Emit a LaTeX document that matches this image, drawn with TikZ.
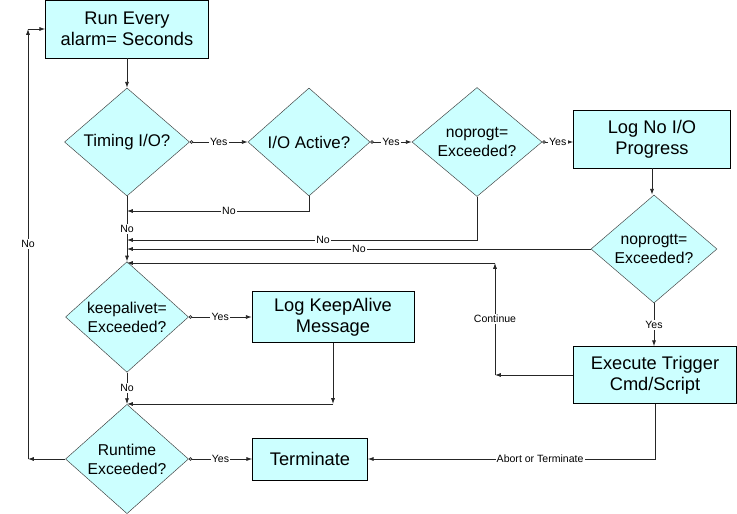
\documentclass[tikz,border=0pt]{standalone}
\usepackage{fontspec}
\setmainfont{Liberation Sans}
\usetikzlibrary{shapes.geometric,arrows.meta,positioning}
\definecolor{boxcyan}{RGB}{204,255,255}
\tikzset{procbox/.style={draw=black, fill=boxcyan, align=center, inner sep=0pt, font=\fontsize{15.6}{18}\selectfont}}
\tikzset{decide/.style={diamond, draw=black!75, fill=boxcyan, align=center, inner sep=0pt, font=\fontsize{13.4}{16.4}\selectfont}}
\tikzset{flow/.style={draw=black!85, line width=0.7pt, -{Latex[length=5pt,width=3.5pt]}}}
\tikzset{yesflow/.style={flow, {Circle[open,length=3pt,width=3pt]}-{Latex[length=5pt,width=3.5pt]}}}
\tikzset{lbl/.style={fill=white, inner sep=1pt, font=\fontsize{9}{10}\selectfont}}

\begin{document}
\begin{tikzpicture}[x=0.3mm, y=-0.3mm]
\useasboundingbox (0,0) rectangle (737,514);

% boxes and decisions
\node[procbox, minimum width=48.9mm, minimum height=17.4mm] (run) at (127,29) {Run Every\\alarm= Seconds};
\node[decide, minimum width=37.5mm, minimum height=32.4mm, font=\fontsize{14.4}{16.4}\selectfont] (timing) at (127,142) {Timing I/O?};
\node[decide, minimum width=36.6mm, minimum height=32.4mm, font=\fontsize{14.4}{16.4}\selectfont] (active) at (309,142) {I/O Active?};
\node[decide, minimum width=39mm, minimum height=32.7mm] (noprogt) at (477,142) {noprogt=\\Exceeded?};
\node[procbox, minimum width=47.1mm, minimum height=17.4mm] (lognoio) at (652,139) {Log No I/O\\Progress};
\node[decide, minimum width=37.8mm, minimum height=31.8mm] (noprogtt) at (654,249) {noprogtt=\\Exceeded?};
\node[procbox, minimum width=48.9mm, minimum height=17.1mm] (execute) at (655,375) {Execute Trigger\\Cmd/Script};
\node[decide, minimum width=36.9mm, minimum height=32.7mm] (keepalive) at (127,317) {keepalivet=\\Exceeded?};
\node[procbox, minimum width=48.6mm, minimum height=15.3mm] (logka) at (333,317) {Log KeepAlive\\Message};
\node[decide, minimum width=36.9mm, minimum height=32.4mm] (runtime) at (127,459) {Runtime\\Exceeded?};
\node[procbox, minimum width=34.5mm, minimum height=12.6mm] (terminate) at (310,459) {Terminate};

\coordinate (j1) at (127,211);
\coordinate (j2) at (127,240);
\coordinate (j3) at (127,249);
\coordinate (j4) at (127,263);
\coordinate (j5) at (127,404);
\coordinate (k1) at (495,375);
\coordinate (k2) at (495,263);
\coordinate (ka1) at (333,404);
\coordinate (r1) at (28,459);
\coordinate (r2) at (28,29);

% top row
\draw[flow] (run.south) -- (timing.north);
\draw[yesflow] (timing.east) -- node[lbl] {Yes} (active.west);
\draw[yesflow] (active.east) -- node[lbl] {Yes} (noprogt.west);
\draw[yesflow] (noprogt.east) -- node[lbl] {Yes} (noprogt.east -| lognoio.west);
\draw[flow] (lognoio.south) -- (lognoio.south |- noprogtt.north);
\draw[flow] (noprogtt.south) -- node[lbl] {Yes} (noprogtt.south |- execute.north);

% no branches back to the left
\draw[flow] (timing.south) -- node[lbl] {No} (keepalive.north);
\draw[flow] (active.south) |- node[lbl, pos=0.72] {No} (j1);
\draw[flow] (noprogt.south) |- node[lbl, pos=0.72] {No} (j2);
\draw[flow] (noprogtt.west) -- node[lbl] {No} (j3);

% continue
\draw[flow] (execute.west) -- (k1);
\draw[flow] (k1) -- node[lbl] {Continue} (k2);
\draw[flow] (k2) -- (j4);

% keepalive
\draw[yesflow] (keepalive.east) -- node[lbl] {Yes} (logka.west);
\draw[flow] (keepalive.south) -- node[lbl] {No} (runtime.north);
\draw[flow] (logka.south) -- (ka1);
\draw[flow] (ka1) -- (j5);

% runtime
\draw[yesflow] (runtime.east) -- node[lbl] {Yes} (terminate.west);
\draw[flow] (execute.south) |- node[lbl, pos=0.70] {Abort or Terminate} (terminate.east);
\draw[flow] (runtime.west) -- (r1);
\draw[flow] (r1) -- node[lbl] {No} (r2);
\draw[flow] (r2) -- (run.west);
\end{tikzpicture}
\end{document}
